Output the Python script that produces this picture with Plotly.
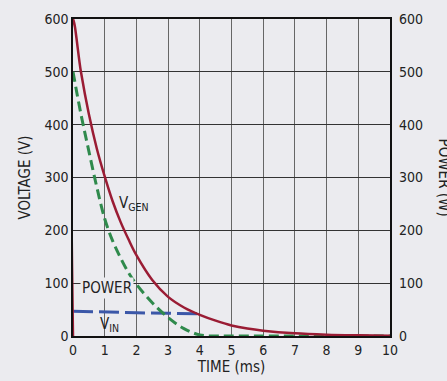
import plotly.graph_objects as go

# Data
t_gen = [0, 0, 0.25, 0.5, 0.75, 1.0, 1.25, 1.5, 1.75, 2.0, 2.5, 3.0, 3.5, 4.0, 4.5, 5.0, 5.5, 6.0, 7.0, 8.0, 9.0, 10.0]
v_gen = [0, 600, 500, 420, 355, 302, 255, 216, 183, 153, 106, 74, 54, 40, 29, 20, 14, 10, 5, 2.5, 1.3, 0.6]

t_in = [0, 0.25, 0.5, 0.75, 1.0, 1.25, 1.5, 1.75, 2.0, 2.5, 3.0, 3.5, 4.0, 4.5, 5, 6, 7, 8, 9, 10]
v_in = [500, 420, 350, 282, 222, 180, 148, 120, 98, 63, 35, 14, 2, 0, 0, 0, 0, 0, 0, 0]

t_pow = [0, 1, 2, 3, 4]
p_pow = [47, 45, 44, 43, 42]

x_ticks = list(range(0, 11))
y_ticks = list(range(0, 601, 100))

FONT = "DejaVu Sans Condensed, Liberation Sans Narrow, Roboto, sans-serif"
BG = "#ebebef"

fig = go.Figure()
fig.add_trace(go.Scatter(x=t_pow, y=p_pow, mode="lines",
                         line=dict(color="#3b57a8", width=3, dash="20px,6px"), showlegend=False))
fig.add_trace(go.Scatter(x=t_in, y=v_in, mode="lines", line_shape="spline",
                         line=dict(color="#2f8a4c", width=3, dash="10px,5px"), showlegend=False))
fig.add_trace(go.Scatter(x=t_gen, y=v_gen, mode="lines", line_shape="spline",
                         line=dict(color="#9a1c34", width=2.5), showlegend=False))
fig.add_trace(go.Scatter(x=[0, 10], y=[0, 0], mode="lines", yaxis="y2",
                         line=dict(color="rgba(0,0,0,0)"), showlegend=False, hoverinfo="skip"))

fig.update_layout(
    width=447, height=381,
    margin=dict(l=73, r=57, t=19, b=45),
    paper_bgcolor=BG, plot_bgcolor=BG,
    font=dict(family=FONT, size=14, color="#222"),
    xaxis=dict(range=[0, 10], tickvals=x_ticks, showgrid=True, gridcolor="#666", gridwidth=1.3,
               zeroline=False, showline=True, linecolor="#111", linewidth=1.5, mirror=True,
               ticks="", automargin=False,
               title=dict(text="TIME (ms)", standoff=4, font=dict(size=15))),
    yaxis=dict(range=[0, 600], tickvals=y_ticks, showgrid=True, gridcolor="#333", gridwidth=1.3,
               zeroline=False, showline=True, linecolor="#111", linewidth=1.5, mirror=True,
               ticks="", automargin=False,
               title=dict(text="VOLTAGE (V)", standoff=10, font=dict(size=15))),
    yaxis2=dict(range=[0, 600], tickvals=y_ticks, overlaying="y", side="right", showgrid=False,
                zeroline=False, showline=False, ticks="", automargin=False, ticklabelstandoff=8),
    annotations=[
        dict(text="V<sub>GEN</sub>", x=1.38, y=250, xref="x", yref="y", showarrow=False,
             xanchor="left", yanchor="middle", font=dict(size=15)),
        dict(text="POWER", x=1.08, y=90, xref="x", yref="y", showarrow=False,
             xanchor="center", yanchor="middle", font=dict(size=15), bgcolor=BG),
        dict(text="V<sub>IN</sub>", x=0.8, y=22, xref="x", yref="y", showarrow=False,
             xanchor="left", yanchor="middle", font=dict(size=15)),
        dict(text="POWER (W)", x=(444 - 73) / 317, y=0.5, xref="paper", yref="paper",
             showarrow=False, textangle=90, xanchor="center", yanchor="middle",
             font=dict(size=15)),
    ],
)

fig.write_html("out.html", config={"displayModeBar": False},
               post_script="document.body.style.margin='0px';")
